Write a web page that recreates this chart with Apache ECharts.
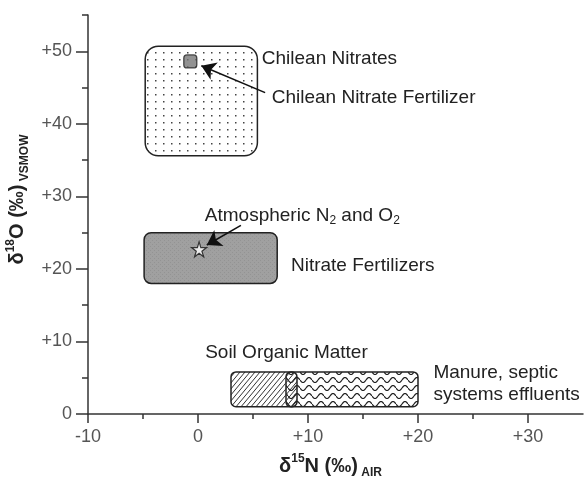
<!DOCTYPE html>
<html><head><meta charset="utf-8">
<script src="https://cdn.jsdelivr.net/npm/echarts@6/dist/echarts.min.js"></script>
<style>html,body{margin:0;padding:0;background:#fff}#c{width:584px;height:483px}</style>
</head><body><div id="c"></div>
<script>
// ---- data ----
const xTicks = [-10, 0, 10, 20, 30];
const xMinorTicks = [-5, 5, 15, 25];
const yTicks = [0, 10, 20, 30, 40, 50];
const yMinorTicks = [5, 15, 25, 35, 45, 55];

const regionNames = ['Manure, septic systems effluents', 'Soil Organic Matter', 'Chilean Nitrates', 'Nitrate Fertilizers'];
const regionX0 = [8.0, 3.0, -4.8, -4.9];
const regionX1 = [20.0, 9.0, 5.4, 7.2];
const regionY0 = [1.0, 1.0, 35.6, 18.0];
const regionY1 = [5.8, 5.8, 50.7, 25.0];

const pointNames = ['Chilean Nitrate Fertilizer', 'Atmospheric N2 and O2'];
const pointX = [-0.7, 0.1];
const pointY = [48.6, 22.7];

const arrowFromX = [6.1, 3.9];
const arrowFromY = [44.3, 26.0];
const arrowToX = [0.3, 0.8];
const arrowToY = [48.0, 23.3];

const labelTexts = ['Chilean Nitrates', 'Chilean Nitrate Fertilizer', 'Atmospheric N{s|2} and O{s|2}', 'Nitrate Fertilizers', 'Soil Organic Matter', 'Manure, septic\nsystems effluents'];
const labelX = [5.8, 6.7, 0.62, 8.45, 0.65, 21.4];
const labelY = [49.0, 43.6, 27.3, 20.4, 8.5, 4.2];

// ---- patterns ----
function mk(w, h, draw) { const c = document.createElement('canvas'); c.width = w; c.height = h; draw(c.getContext('2d'), w, h); return { image: c, repeat: 'repeat' }; }
const dotPat = mk(8, 7, (g) => { g.fillStyle = '#fff'; g.fillRect(0, 0, 8, 7); g.fillStyle = '#444'; g.fillRect(3, 3, 1.5, 1.5); });
const grayPat = mk(4, 4, (g) => { g.fillStyle = '#a0a0a0'; g.fillRect(0, 0, 4, 4); g.fillStyle = '#939393'; g.fillRect(0, 0, 1, 1); g.fillRect(2, 2, 1, 1); });
const hatchPat = mk(5, 6, (g) => { g.strokeStyle = '#333'; g.lineWidth = 1; g.beginPath(); g.moveTo(-1, 7.2); g.lineTo(5, 0); g.moveTo(4, 7.2); g.lineTo(10, 0); g.moveTo(-6, 7.2); g.lineTo(0, 0); g.stroke(); });
const wavePat = mk(12, 8, (g) => { g.fillStyle = '#fff'; g.fillRect(0, 0, 12, 8); g.strokeStyle = '#222'; g.lineWidth = 1.2; g.beginPath(); for (let x = 0; x <= 12; x += 0.5) { const y = 4 + 2.5 * Math.sin(2 * Math.PI * x / 12); x === 0 ? g.moveTo(x, y) : g.lineTo(x, y); } g.stroke(); });

const regionStyles = [
  { fill: wavePat, r: 5 },
  { fill: hatchPat, r: 5 },
  { fill: dotPat, r: 13 },
  { fill: grayPat, r: 7 }
];

const FONT = '"Liberation Sans", Arial, Helvetica, sans-serif';
const fmt = (v) => (v > 0 ? '+' + v : '' + v);
const titleRich = {
  b: { fontSize: 20, fontWeight: 'bold', fontFamily: FONT, color: '#222', lineHeight: 26 },
  sup: { fontSize: 12, fontWeight: 'bold', fontFamily: FONT, color: '#222', verticalAlign: 'top', lineHeight: 13 },
  sm: { fontSize: 12, fontWeight: 'bold', fontFamily: FONT, color: '#222', verticalAlign: 'bottom', lineHeight: 17 }
};
const tickStyle = { color: '#333', width: 1.5 };

const chart = echarts.init(document.getElementById('c'));
chart.setOption({
  animation: false,
  grid: { left: 88, right: 1, top: 15, bottom: 69, containLabel: false, outerBoundsMode: 'none' },
  xAxis: [{
    type: 'value', min: -10, max: 35,
    axisLine: { onZero: false, lineStyle: tickStyle },
    axisTick: { customValues: xTicks, length: 9, lineStyle: tickStyle },
    axisLabel: { customValues: xTicks, formatter: fmt, fontSize: 18, color: '#555', fontFamily: FONT, margin: 14 },
    splitLine: { show: false },
    name: '{b|δ}{sup|15}{b|N (‰)} {sm|AIR}', nameLocation: 'middle', nameGap: 39,
    nameTextStyle: { padding: [0, 10, 0, 0], rich: titleRich }
  }, {
    type: 'value', min: -10, max: 35, position: 'bottom',
    axisLine: { show: false, onZero: false },
    axisTick: { customValues: xMinorTicks, length: 5, lineStyle: tickStyle },
    axisLabel: { show: false }, splitLine: { show: false }
  }],
  yAxis: [{
    type: 'value', min: 0, max: 55,
    axisLine: { onZero: false, lineStyle: tickStyle },
    axisTick: { customValues: yTicks, length: 12, lineStyle: tickStyle },
    axisLabel: { customValues: yTicks, formatter: fmt, fontSize: 18, color: '#555', fontFamily: FONT, margin: 16 },
    splitLine: { show: false },
    name: '{b|δ}{sup|18}{b|O (‰)} {sm|VSMOW}', nameLocation: 'middle', nameGap: 52,
    nameTextStyle: { padding: [0, 0, 0, 30], rich: titleRich }
  }, {
    type: 'value', min: 0, max: 55, position: 'left',
    axisLine: { show: false, onZero: false },
    axisTick: { customValues: yMinorTicks, length: 6, lineStyle: tickStyle },
    axisLabel: { show: false }, splitLine: { show: false }
  }],
  series: [
    {
      type: 'custom', name: 'regions', z: 1,
      data: regionNames.map((n, i) => ({ name: n, value: [regionX0[i], regionY0[i], regionX1[i], regionY1[i]] })),
      encode: { x: [0, 2], y: [1, 3] },
      renderItem: (params, api) => {
        const a = api.coord([api.value(0), api.value(3)]);
        const b = api.coord([api.value(2), api.value(1)]);
        const s = regionStyles[params.dataIndex];
        return { type: 'rect', shape: { x: a[0], y: a[1], width: b[0] - a[0], height: b[1] - a[1], r: s.r },
          style: { fill: s.fill, stroke: '#222', lineWidth: 1.5 } };
      }
    },
    {
      type: 'scatter', z: 3,
      data: pointNames.map((n, i) => ({
        name: n, value: [pointX[i], pointY[i]],
        symbol: i === 0 ? 'roundRect' : 'path://M50,0 L61,35 L98,35 L68,57 L79,91 L50,70 L21,91 L32,57 L2,35 L39,35 Z',
        symbolSize: i === 0 ? 13 : 15,
        itemStyle: i === 0 ? { color: '#777', borderColor: '#222', borderWidth: 1.3 } : { color: '#fff', borderColor: '#111', borderWidth: 1.2 }
      }))
    },
    {
      type: 'lines', coordinateSystem: 'cartesian2d', z: 4,
      symbol: ['none', 'arrow'], symbolSize: 14,
      lineStyle: { color: '#111', width: 1.6, opacity: 1 },
      data: arrowFromX.map((x, i) => ({ coords: [[x, arrowFromY[i]], [arrowToX[i], arrowToY[i]]] }))
    },
    {
      type: 'custom', name: 'labels', z: 5,
      data: labelTexts.map((t, i) => [labelX[i], labelY[i]]),
      renderItem: (params, api) => {
        const p = api.coord([api.value(0), api.value(1)]);
        return { type: 'text', x: p[0], y: p[1],
          style: { text: labelTexts[params.dataIndex], fontSize: 19, fontFamily: FONT, fill: '#222',
            align: 'left', verticalAlign: 'middle', lineHeight: 22,
            rich: { s: { fontSize: 12, fontFamily: FONT, fill: '#222', verticalAlign: 'bottom', lineHeight: 22 } } } };
      }
    }
  ]
});
</script></body></html>
